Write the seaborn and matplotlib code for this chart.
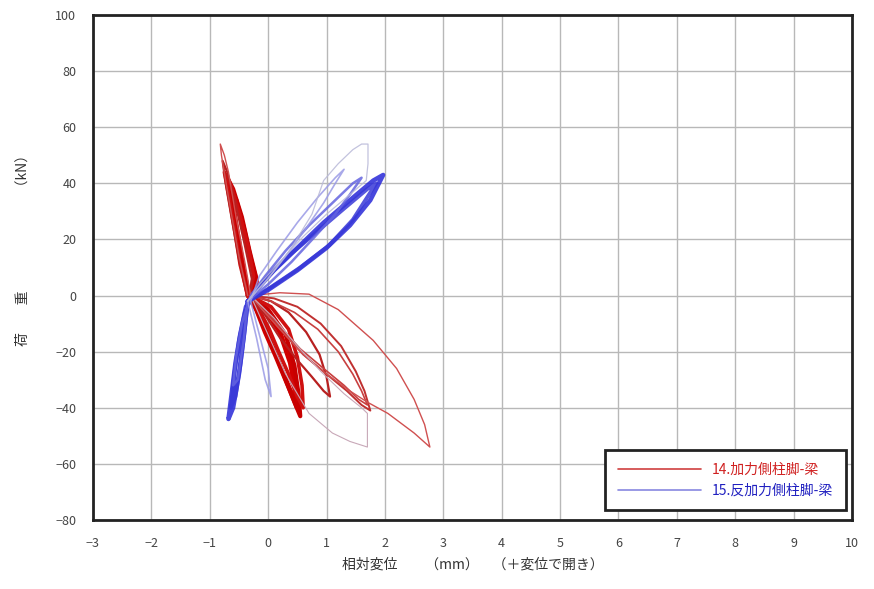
import matplotlib
matplotlib.use("Agg")
import matplotlib.pyplot as plt
import seaborn as sns
import pandas as pd

# 14. red series cycles (displacement mm, load kN)
r1_disp = [-0.33, -0.42, -0.5, -0.57, -0.62, -0.55, -0.42, -0.3, -0.2, -0.3, -0.05, 0.2, 0.38, 0.46, 0.5, 0.42, 0.28, 0.12, -0.05, -0.2, -0.33]
r1_load = [0, 9, 19, 28, 36, 34, 24, 13, 5, 0, -5, -13, -24, -33, -40, -36, -29, -21, -13, -5, 0]
r2_disp = [-0.35, -0.45, -0.55, -0.63, -0.7, -0.6, -0.45, -0.32, -0.2, -0.3, 0.0, 0.3, 0.45, 0.52, 0.55, 0.45, 0.3, 0.15, 0.0, -0.2, -0.35]
r2_load = [0, 10, 22, 33, 42, 38, 28, 16, 6, 0, -5, -14, -25, -35, -43, -38, -30, -22, -14, -5, 0]
r3_disp = [-0.35, -0.48, -0.58, -0.67, -0.75, -0.65, -0.5, -0.35, -0.25, -0.32, 0.05, 0.35, 0.5, 0.58, 0.6, 0.5, 0.35, 0.18, 0.02, -0.18, -0.35]
r3_load = [0, 11, 24, 35, 44, 40, 30, 18, 7, 0, -4, -12, -22, -32, -40, -36, -28, -20, -12, -4, 0]
r4_disp = [-0.35, -0.5, -0.62, -0.72, -0.78, -0.7, -0.55, -0.4, -0.28, -0.3, 0.05, 0.35, 0.65, 0.88, 1.0, 1.06, 0.95, 0.75, 0.5, 0.2, -0.05, -0.3]
r4_load = [0, 13, 27, 39, 48, 44, 32, 18, 6, 0, -2, -6, -13, -21, -29, -36, -34, -29, -23, -15, -7, -1]
r5_disp = [-0.3, 0.1, 0.5, 0.9, 1.25, 1.5, 1.65, 1.75, 1.6, 1.35, 1.0, 0.6, 0.25, -0.05, -0.3]
r5_load = [0, -1, -4, -10, -18, -27, -34, -41, -39, -34, -28, -21, -13, -6, 0]
r6_disp = [-0.3, 0.05, 0.45, 0.85, 1.2, 1.45, 1.6, 1.7, 1.55, 1.3, 0.95, 0.55, 0.2, -0.1, -0.3]
r6_load = [0, -2, -6, -12, -20, -28, -34, -39, -37, -32, -26, -19, -11, -4, 0]
r7_disp = [-0.35, -0.5, -0.62, -0.72, -0.8, -0.82, -0.75, -0.68, -0.55, -0.4, -0.3, 0.2, 0.7, 1.2, 1.8, 2.2, 2.5, 2.68, 2.77, 2.5, 2.05, 1.7, 1.4, 1.0, 0.6, 0.2, -0.1, -0.3]
r7_load = [0, 14, 28, 40, 50, 54, 50, 44, 28, 12, 0, 1, 0.5, -5, -16, -26, -37, -46, -54, -49, -42, -38, -34, -28, -21, -12, -5, 0]
r8_disp = [-0.3, 0.1, 0.5, 0.9, 1.3, 1.6, 1.7, 1.7, 1.4, 1.1, 0.7, 0.3, -0.3]
r8_load = [0, -8, -18, -27, -35, -40, -42, -54, -52, -49, -42, -28, 0]

# 15. blue series cycles
b1_disp = [-0.35, 0.0, 0.5, 1.0, 1.4, 1.75, 1.97, 1.8, 1.4, 0.95, 0.5, 0.1, -0.2, -0.38, -0.48, -0.56, -0.62, -0.68, -0.6, -0.5, -0.42, -0.35]
b1_load = [-2, 2, 9, 17, 25, 34, 43, 41, 34, 26, 17, 9, 2, -4, -14, -24, -34, -44, -40, -28, -15, -2]
b2_disp = [-0.35, 0.05, 0.55, 1.05, 1.45, 1.85, 1.7, 1.3, 0.85, 0.4, 0.0, -0.25, -0.4, -0.5, -0.58, -0.64, -0.56, -0.47, -0.4, -0.35]
b2_load = [-2, 3, 10, 18, 27, 40, 38, 31, 23, 15, 7, 1, -6, -16, -28, -40, -36, -24, -12, -2]
b3_disp = [-0.35, 0.0, 0.4, 0.8, 1.15, 1.4, 1.6, 1.45, 1.1, 0.7, 0.3, -0.05, -0.3, -0.45, -0.55, -0.6, -0.52, -0.42, -0.35]
b3_load = [-2, 4, 12, 21, 29, 36, 42, 40, 33, 25, 16, 7, 0, -10, -22, -32, -30, -16, -2]
b4_disp = [-0.35, -0.05, 0.3, 0.65, 0.95, 1.15, 1.3, 1.15, 0.85, 0.5, 0.15, -0.15, -0.3, -0.15, 0.0, 0.05, -0.05, -0.2, -0.35]
b4_load = [-2, 5, 14, 24, 33, 40, 45, 42, 35, 26, 16, 7, -2, -14, -26, -36, -30, -15, -2]
b5_disp = [-0.35, 0.0, 0.4, 0.75, 0.95, 1.2, 1.45, 1.6, 1.71, 1.71, 1.68, 1.4, 1.0, 0.6, 0.2, -0.15, -0.35]
b5_load = [-2, 6, 17, 29, 41, 47, 52, 54, 54, 47, 41, 36, 29, 21, 12, 4, -2]

x_ticks = [-3, -2, -1, 0, 1, 2, 3, 4, 5, 6, 7, 8, 9, 10]
y_ticks = [-80, -60, -40, -20, 0, 20, 40, 60, 80, 100]
legend_labels = ["14.加力側柱脚-梁", "15.反加力側柱脚-梁"]

red_cycles = [(r1_disp, r1_load), (r2_disp, r2_load), (r3_disp, r3_load), (r4_disp, r4_load),
              (r5_disp, r5_load), (r6_disp, r6_load), (r7_disp, r7_load), (r8_disp, r8_load)]
blue_cycles = [(b1_disp, b1_load), (b2_disp, b2_load), (b3_disp, b3_load),
               (b4_disp, b4_load), (b5_disp, b5_load)]

# style per cycle: colour, width
red_styles = [("#d00000", 3.5), ("#c80000", 3.0), ("#d01010", 2.6), ("#b82020", 1.6),
              ("#c03030", 1.4), ("#c84040", 1.2), ("#d05050", 1.0), ("#c8a8b8", 0.8)]
blue_styles = [("#2828d8", 3.2), ("#3838d8", 2.8), ("#6464e0", 1.8), ("#9a9ae6", 1.2), ("#b8b8d8", 0.9)]

sns.set_theme(style="whitegrid")
plt.rcParams['font.family'] = ['Noto Sans CJK JP', 'DejaVu Sans']

fig = plt.figure(figsize=(8.74, 5.89), dpi=100)
ax = fig.add_axes([93 / 874, 1 - 520 / 589, 759 / 874, 505 / 589])
ax.set_facecolor("white")

for (d, l), (c, w) in zip(red_cycles, red_styles):
    df = pd.DataFrame({"disp": d, "load": l})
    sns.lineplot(data=df, x="disp", y="load", sort=False, estimator=None, color=c, lw=w, ax=ax)
for (d, l), (c, w) in zip(blue_cycles, blue_styles):
    df = pd.DataFrame({"disp": d, "load": l})
    sns.lineplot(data=df, x="disp", y="load", sort=False, estimator=None, color=c, lw=w, alpha=0.85, ax=ax)

ax.set_xlim(-3, 10)
ax.set_ylim(-80, 100)
ax.set_xticks(x_ticks)
ax.set_yticks(y_ticks)
ax.tick_params(labelsize=9, colors="#444444", pad=6)
ax.grid(True, color="#b8b8b8", lw=1.0)
for s in ax.spines.values():
    s.set_color("#222222")
    s.set_linewidth(2.0)

ax.set_xlabel("相対変位　　（mm）　（＋変位で開き）", fontsize=10, color="#333333", labelpad=6)
ax.set_ylabel("荷　　重　　　　　　　（kN）", fontsize=10, color="#333333")
ax.yaxis.set_label_coords(-0.083, 0.541)

handles = [plt.Line2D([], [], color="#d04040", lw=1.2), plt.Line2D([], [], color="#8888e0", lw=1.2)]
leg = ax.legend(handles, legend_labels, loc="lower right", bbox_to_anchor=(0.992, 0.02),
                borderaxespad=0, fontsize=10, frameon=True, fancybox=False, framealpha=1,
                handlelength=6, borderpad=0.9, labelspacing=0.5)
leg.get_frame().set_edgecolor("#222222")
leg.get_frame().set_linewidth(2.0)
for t, c in zip(leg.get_texts(), ["#d02020", "#2020c0"]):
    t.set_color(c)

fig.savefig("out.png", dpi=100)
